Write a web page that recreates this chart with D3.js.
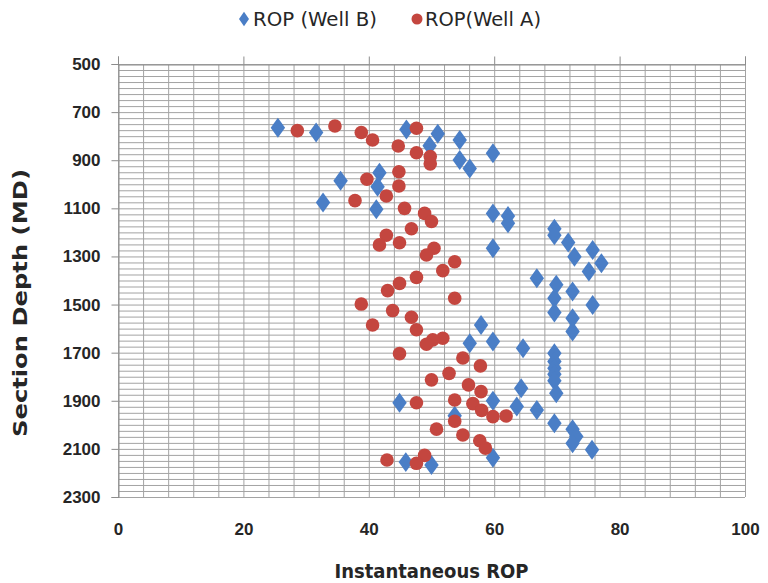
<!DOCTYPE html>
<html>
<head>
<meta charset="utf-8">
<script src="https://cdn.jsdelivr.net/npm/d3@7"></script>
<style>
  body { margin: 0; background: #fff; }
  svg { display: block; font-family: "Liberation Sans Narrow", "DejaVu Sans Condensed", sans-serif; }
</style>
</head>
<body>
<svg id="chart" width="768" height="583"></svg>
<script>
// ROP (Well B) – [rop, depth]
const wellB = [
  [25.5, 765], [31.6, 785], [46.0, 772], [51.0, 790], [49.7, 840], [54.5, 816],
  [59.8, 871], [54.5, 899], [56.1, 934], [41.7, 952], [35.5, 985], [41.4, 1010],
  [32.7, 1076], [41.2, 1104], [59.8, 1121], [62.2, 1132], [62.2, 1162], [69.6, 1185],
  [69.6, 1212], [71.8, 1242], [59.8, 1266], [75.7, 1273], [72.8, 1301], [77.1, 1328],
  [75.1, 1363], [66.8, 1391], [69.9, 1418], [72.5, 1446], [69.6, 1474], [75.7, 1502],
  [69.6, 1533], [72.5, 1557], [57.9, 1585], [72.5, 1612], [59.8, 1654], [56.1, 1661],
  [64.6, 1682], [69.6, 1702], [69.6, 1737], [69.6, 1765], [69.6, 1790], [69.6, 1817],
  [64.3, 1848], [69.9, 1869], [59.8, 1900], [44.9, 1908], [63.6, 1924], [66.8, 1938],
  [53.7, 1962], [69.6, 1993], [72.5, 2018], [73.1, 2049], [72.5, 2077], [75.6, 2104],
  [59.8, 2137], [45.9, 2155], [50.0, 2167]
];

// ROP (Well A) – [rop, depth]
const wellA = [
  [28.6, 777], [34.6, 758], [38.8, 785], [40.6, 816], [47.6, 767], [44.7, 841],
  [47.6, 869], [49.8, 885], [49.8, 915], [44.8, 948], [39.7, 979], [44.8, 1007],
  [42.8, 1049], [37.8, 1068], [45.7, 1100], [48.9, 1121], [50.0, 1155], [46.8, 1185],
  [42.8, 1212], [44.9, 1243], [41.7, 1252], [50.4, 1266], [49.2, 1294], [53.7, 1322],
  [51.8, 1359], [47.6, 1387], [44.9, 1412], [43.0, 1442], [53.7, 1474], [38.8, 1498],
  [43.8, 1525], [46.8, 1553], [40.6, 1585], [47.6, 1605], [51.8, 1640], [50.2, 1647],
  [49.2, 1665], [44.9, 1704], [55.0, 1722], [57.8, 1755], [52.8, 1786], [50.0, 1813],
  [55.9, 1834], [57.9, 1862], [53.7, 1897], [47.6, 1908], [56.6, 1912], [58.0, 1940],
  [59.8, 1966], [61.9, 1963], [53.7, 1985], [50.8, 2018], [55.0, 2042], [57.7, 2066],
  [58.6, 2097], [48.9, 2127], [42.9, 2146], [47.6, 2160]
];

const xTicks = [0, 20, 40, 60, 80, 100];
const yTicks = [500, 700, 900, 1100, 1300, 1500, 1700, 1900, 2100, 2300];
const seriesNames = ["ROP (Well B)", "ROP(Well A)"];

const blue = "#4a7ec6";
const red = "#c4463f";
const textColor = "#262626";

const svg = d3.select("#chart");
const margin = { top: 64, right: 23, bottom: 86, left: 118 };
const width = 768, height = 583;

const x = d3.scaleLinear().domain([0, 100]).range([margin.left, width - margin.right]);
const y = d3.scaleLinear().domain([500, 2300]).range([margin.top, height - margin.bottom]);

// minor grid
const grid = svg.append("g");
grid.selectAll("line.h")
  .data(d3.range(500, 2301, 25))
  .join("line")
  .attr("x1", x(0)).attr("x2", x(100))
  .attr("y1", d => y(d) + 0.5).attr("y2", d => y(d) + 0.5)
  .attr("stroke", "#a3a3a3").attr("stroke-width", 1);
grid.selectAll("line.v")
  .data(d3.range(0, 101, 4))
  .join("line")
  .attr("y1", y(500)).attr("y2", y(2300))
  .attr("x1", d => x(d) + 0.5).attr("x2", d => x(d) + 0.5)
  .attr("stroke", "#a3a3a3").attr("stroke-width", 1);

// left axis
const yAxis = svg.append("g")
  .attr("transform", `translate(${x(0) + 0.5},0)`)
  .call(d3.axisLeft(y).tickValues(yTicks).tickSize(7).tickPadding(11).tickFormat(d3.format("d")));
yAxis.select(".domain").attr("stroke", "#8c8c8c");
yAxis.selectAll(".tick line").attr("stroke", "#8c8c8c");
yAxis.selectAll("text")
  .attr("fill", textColor).style("font-size", "17px").style("font-weight", "bold");

// top axis line (horizontal axis crosses at 500) with outward ticks
const xTop = svg.append("g")
  .attr("transform", `translate(0,${y(500) + 0.5})`)
  .call(d3.axisTop(x).tickValues(xTicks).tickSize(8).tickFormat(""));
xTop.select(".domain").attr("stroke", "#8c8c8c");
xTop.selectAll(".tick line").attr("stroke", "#8c8c8c");

// x labels placed low
const xBottom = svg.append("g")
  .attr("transform", `translate(0,${y(2300)})`)
  .call(d3.axisBottom(x).tickValues(xTicks).tickSize(0).tickPadding(26));
xBottom.select(".domain").remove();
xBottom.selectAll("text")
  .attr("fill", textColor).style("font-size", "17px").style("font-weight", "bold");

// markers
const diamond = d3.symbol().type(d3.symbolDiamond).size(115);
svg.append("g").selectAll("path")
  .data(wellB)
  .join("path")
  .attr("d", diamond)
  .attr("transform", d => `translate(${x(d[0])},${y(d[1])}) scale(1.25,1)`)
  .attr("fill", blue);

svg.append("g").selectAll("circle")
  .data(wellA)
  .join("circle")
  .attr("cx", d => x(d[0]))
  .attr("cy", d => y(d[1]))
  .attr("r", 6.8)
  .attr("fill", red);

// axis titles
svg.append("text")
  .attr("x", (x(0) + x(100)) / 2)
  .attr("y", 578)
  .attr("text-anchor", "middle")
  .attr("fill", textColor)
  .style("font-size", "20px").style("font-weight", "bold")
  .text("Instantaneous  ROP");

svg.append("text")
  .attr("transform", `translate(27,303) rotate(-90)`)
  .attr("text-anchor", "middle")
  .attr("fill", textColor)
  .attr("textLength", 268)
  .attr("lengthAdjust", "spacingAndGlyphs")
  .style("font-size", "19px").style("font-weight", "bold")
  .text("Section Depth (MD)");

// legend
const legend = svg.append("g");
legend.append("path")
  .attr("d", d3.symbol().type(d3.symbolDiamond).size(60))
  .attr("transform", "translate(244,19) scale(1.2,1)")
  .attr("fill", blue);
legend.append("text")
  .attr("x", 253).attr("y", 26)
  .attr("fill", textColor).style("font-size", "19px")
  .attr("textLength", 124).attr("lengthAdjust", "spacingAndGlyphs")
  .text(seriesNames[0]);
legend.append("circle")
  .attr("cx", 417).attr("cy", 19).attr("r", 5.5)
  .attr("fill", red);
legend.append("text")
  .attr("x", 425).attr("y", 26)
  .attr("fill", textColor).style("font-size", "19px")
  .attr("textLength", 116).attr("lengthAdjust", "spacingAndGlyphs")
  .text(seriesNames[1]);
</script>
</body>
</html>
